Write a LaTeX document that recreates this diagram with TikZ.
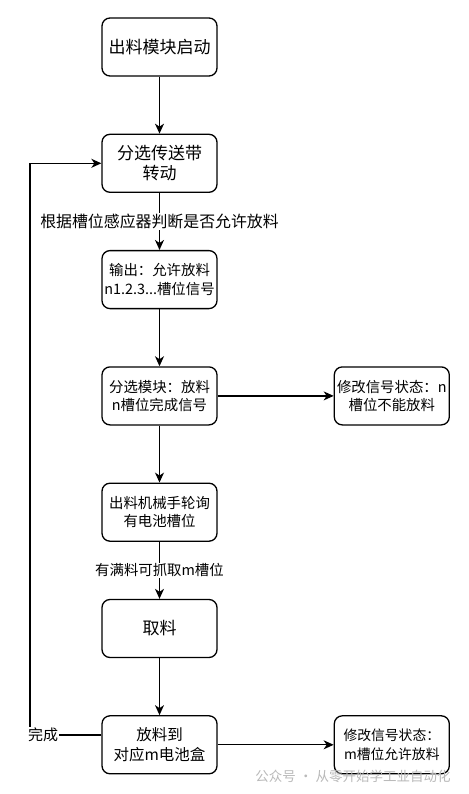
\documentclass[tikz,border=0pt]{standalone}
\usepackage{fontspec}
\setmainfont{Noto Sans CJK SC}
\usepackage{tikz}
\usetikzlibrary{arrows.meta, positioning}

\begin{document}
\begin{tikzpicture}[
    x=1pt, y=-1pt,
    node distance=57pt,
    stepbox/.style={
        rectangle, rounded corners=8pt, draw=black, fill=white,
        line width=1.3pt, minimum width=115pt, minimum height=58pt,
        inner sep=2pt, align=center, text=black
    },
    bigtext/.style={font=\fontsize{17}{20}\selectfont},
    smalltext/.style={font=\fontsize{14.4}{18.5}\selectfont},
    arr/.style={-{Stealth[length=10pt, width=9pt, inset=3pt]}, line width=1.3pt, black},
    linelabel/.style={fill=white, inner sep=1pt, text=black}
]
\useasboundingbox (0,0) rectangle (468,794);

% Main flow
\node[stepbox, bigtext] (b1) at (159.5,47) {出料模块启动};
\node[stepbox, bigtext, below=of b1] (b2) {分选传送带\\转动};
\node[stepbox, smalltext, below=of b2] (b3) {输出：允许放料\\n1.2.3...槽位信号};
\node[stepbox, smalltext, below=of b3] (b4) {分选模块：放料\\n槽位完成信号};
\node[stepbox, smalltext, below=of b4] (b5) {出料机械手轮询\\有电池槽位};
\node[stepbox, bigtext, below=of b5] (b6) {取料};
\node[stepbox, font=\fontsize{15.5}{20}\selectfont, below=of b6] (b7) {放料到\\对应m电池盒};

% Signal boxes
\node[stepbox, smalltext, right=116pt of b4] (s1) {修改信号状态：n\\槽位不能放料};
\node[stepbox, font=\fontsize{13.8}{18.5}\selectfont, right=116pt of b7] (s2) {修改信号状态：\\m槽位允许放料};

% Arrows
\draw[arr] (b1) -- (b2);
\draw[arr] (b2) -- node[linelabel, font=\fontsize{15.9}{18}\selectfont] {根据槽位感应器判断是否允许放料} (b3);
\draw[arr] (b3) -- (b4);
\draw[arr] (b4) -- (b5);
\draw[arr] (b5) -- node[linelabel, font=\fontsize{14.4}{18}\selectfont] {有满料可抓取m槽位} (b6);
\draw[arr] (b6) -- (b7);
\draw[arr] (b4) -- (s1);
\draw[arr] (b7) -- (s2);

% Feedback loop
\coordinate (fb) at (30,735);
\draw[arr] (b7.west |- fb) -- (fb) -- (fb |- b2.west) -- (b2.west);
\node[linelabel, font=\fontsize{15}{18}\selectfont] (done) at (43,735) {完成};

% Watermark
\node[text=gray!55, font=\fontsize{13.5}{16}\selectfont] (wm) at (353,776) {公众号 · 从零开始学工业自动化};
\end{tikzpicture}
\end{document}
